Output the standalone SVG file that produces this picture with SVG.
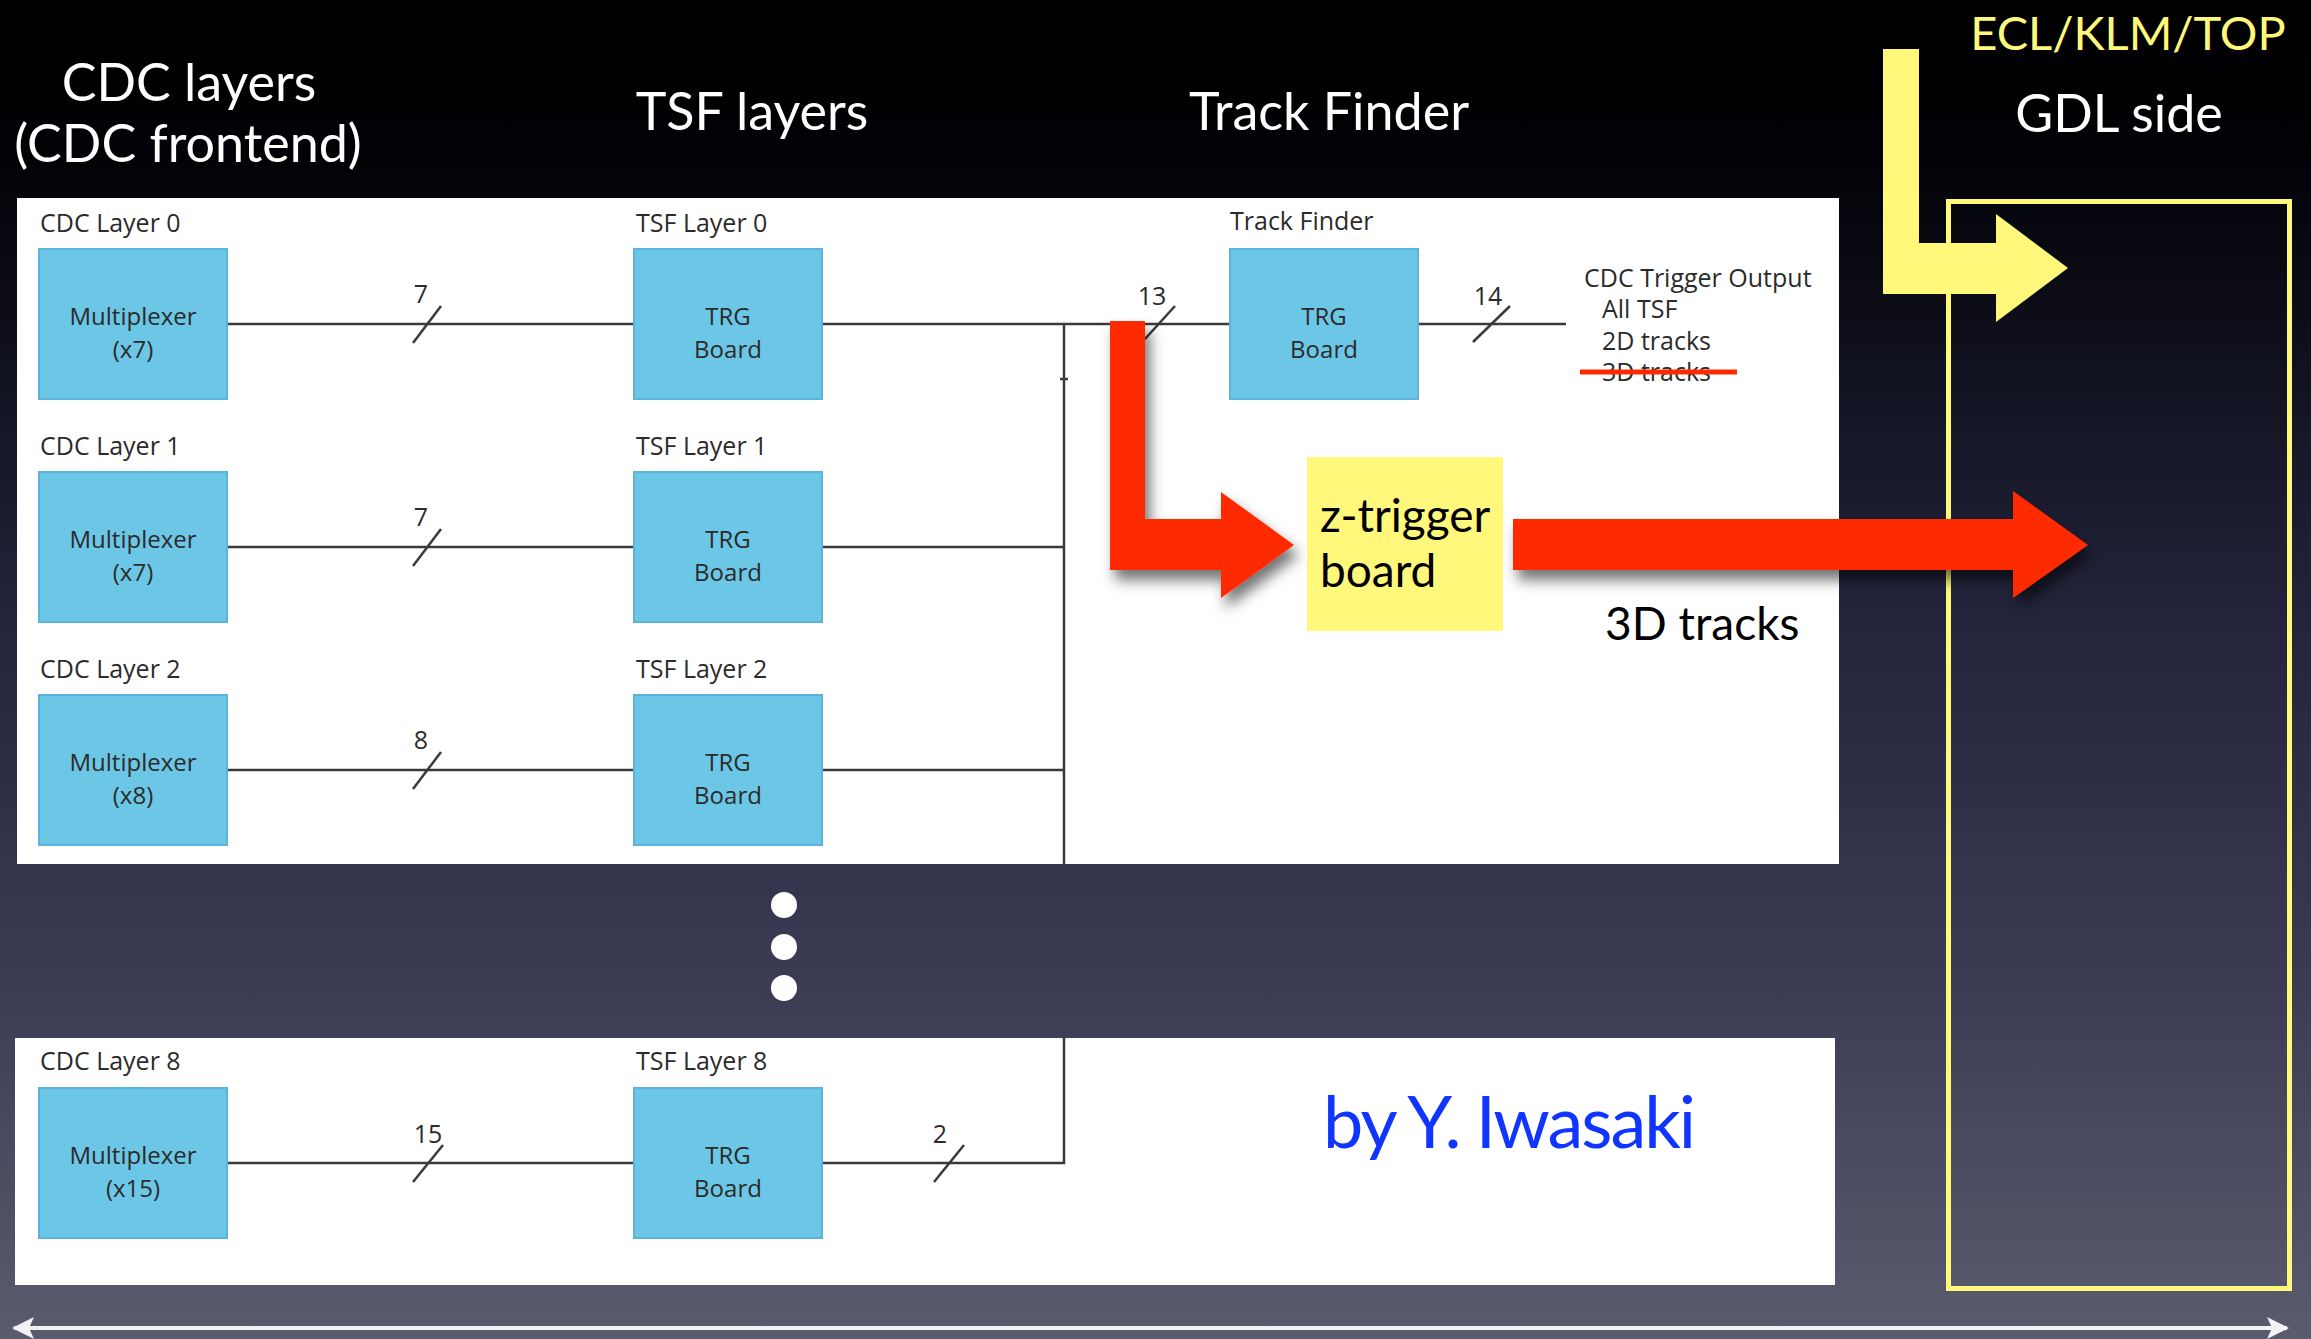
<svg xmlns="http://www.w3.org/2000/svg" width="2311" height="1339" viewBox="0 0 2311 1339">
<defs>
<linearGradient id="bg" x1="0" y1="0" x2="0" y2="1">
<stop offset="0" stop-color="#000000"/>
<stop offset="0.12" stop-color="#020207"/>
<stop offset="0.45" stop-color="#22233a"/>
<stop offset="0.72" stop-color="#3a3b53"/>
<stop offset="1" stop-color="#5a5b6d"/>
</linearGradient>
<filter id="shadow" x="-10%" y="-10%" width="130%" height="140%">
<feDropShadow dx="5" dy="10" stdDeviation="7" flood-color="#000" flood-opacity="0.55"/>
</filter>
<marker id="wh" viewBox="0 0 22 22" refX="20" refY="11" markerWidth="22" markerHeight="22" markerUnits="userSpaceOnUse" orient="auto-start-reverse">
<path d="M0,0 L22,11 L0,22 L5,11 Z" fill="#f2f2f6"/>
</marker>
<style>
.title{font-family:Lato,"Open Sans",sans-serif;font-size:52px;fill:#ffffff;text-anchor:middle}
.yel{font-family:Lato,"Open Sans",sans-serif;font-size:47px;fill:#fff87a;text-anchor:middle}
.lbl{font-family:"Open Sans","Noto Sans",sans-serif;font-size:25px;fill:#2b2b2b}
.bx{font-family:"Open Sans","Noto Sans",sans-serif;font-size:24px;fill:#2b2b2b;text-anchor:middle}
.num{font-family:"Open Sans","Noto Sans",sans-serif;font-size:25px;fill:#2b2b2b;text-anchor:middle}
.big{font-family:Lato,"Open Sans",sans-serif;font-size:46px;fill:#000000}
.box{fill:#6cc6e5;stroke:#5cb3dc;stroke-width:2}
.wire{fill:none;stroke:#3a3a3a;stroke-width:2.5}
.slash{stroke:#3a3a3a;stroke-width:2.5}
.panel{fill:#ffffff}
.red{fill:#ff2a00}
.yfill{fill:#fff87a}
</style>
</defs>
<rect x="0" y="0" width="2311" height="1339" fill="url(#bg)"/>

<g id="titles">
<text class="title" x="189" y="101">CDC layers</text>
<text class="title" x="188" y="162">(CDC frontend)</text>
<text class="title" x="752" y="130">TSF layers</text>
<text class="title" x="1329" y="130">Track Finder</text>
<text class="title" x="2119" y="132">GDL side</text>
<text class="yel" x="2128" y="50">ECL/KLM/TOP</text>
</g>

<g id="panels">
<rect class="panel" x="17" y="198" width="1822" height="666"/>
<rect class="panel" x="15" y="1038" width="1820" height="247"/>
</g>

<g id="gdl-side">
<rect x="1948.5" y="201.5" width="341" height="1087" fill="none" stroke="#fff87a" stroke-width="5"/>
</g>

<g id="connectors">
<line class="wire" x1="227" y1="324" x2="634" y2="324"/>
<line class="wire" x1="227" y1="547" x2="634" y2="547"/>
<line class="wire" x1="227" y1="770" x2="634" y2="770"/>
<line class="wire" x1="227" y1="1163" x2="634" y2="1163"/>
<line class="wire" x1="822" y1="324" x2="1230" y2="324"/>
<line class="wire" x1="822" y1="547" x2="1064" y2="547"/>
<line class="wire" x1="822" y1="770" x2="1064" y2="770"/>
<polyline class="wire" points="822,1163 1064,1163 1064,1038"/>
<line class="wire" x1="1064" y1="324" x2="1064" y2="864"/>
<line class="wire" x1="1060" y1="379" x2="1068" y2="379" stroke-width="2"/>
<line class="wire" x1="1418" y1="324" x2="1566" y2="324"/>
<line class="slash" x1="413" y1="343" x2="441" y2="306"/>
<line class="slash" x1="413" y1="566" x2="441" y2="529"/>
<line class="slash" x1="413" y1="789" x2="441" y2="752"/>
<line class="slash" x1="413" y1="1182" x2="443" y2="1145"/>
<line class="slash" x1="934" y1="1182" x2="964" y2="1145"/>
<line class="slash" x1="1145" y1="339" x2="1175" y2="306"/>
<line class="slash" x1="1473" y1="342" x2="1510" y2="306"/>
<text class="num" x="421" y="303">7</text>
<text class="num" x="421" y="526">7</text>
<text class="num" x="421" y="749">8</text>
<text class="num" x="428" y="1143">15</text>
<text class="num" x="940" y="1143">2</text>
<text class="num" x="1152" y="305">13</text>
<text class="num" x="1488" y="305">14</text>
<line x1="14" y1="1328" x2="2287" y2="1328" stroke="#f2f2f6" stroke-width="4" marker-start="url(#wh)" marker-end="url(#wh)"/>
</g>

<g id="cdc-layer-0">
<text class="lbl" x="40" y="232">CDC Layer 0</text>
<rect class="box" x="39" y="249" width="188" height="150"/>
<text class="bx" x="133" y="325">Multiplexer</text>
<text class="bx" x="133" y="358">(x7)</text>
</g>
<g id="tsf-layer-0">
<text class="lbl" x="636" y="232">TSF Layer 0</text>
<rect class="box" x="634" y="249" width="188" height="150"/>
<text class="bx" x="728" y="325">TRG</text>
<text class="bx" x="728" y="358">Board</text>
</g>

<g id="cdc-layer-1">
<text class="lbl" x="40" y="455">CDC Layer 1</text>
<rect class="box" x="39" y="472" width="188" height="150"/>
<text class="bx" x="133" y="548">Multiplexer</text>
<text class="bx" x="133" y="581">(x7)</text>
</g>
<g id="tsf-layer-1">
<text class="lbl" x="636" y="455">TSF Layer 1</text>
<rect class="box" x="634" y="472" width="188" height="150"/>
<text class="bx" x="728" y="548">TRG</text>
<text class="bx" x="728" y="581">Board</text>
</g>

<g id="cdc-layer-2">
<text class="lbl" x="40" y="678">CDC Layer 2</text>
<rect class="box" x="39" y="695" width="188" height="150"/>
<text class="bx" x="133" y="771">Multiplexer</text>
<text class="bx" x="133" y="804">(x8)</text>
</g>
<g id="tsf-layer-2">
<text class="lbl" x="636" y="678">TSF Layer 2</text>
<rect class="box" x="634" y="695" width="188" height="150"/>
<text class="bx" x="728" y="771">TRG</text>
<text class="bx" x="728" y="804">Board</text>
</g>

<g id="ellipsis">
<circle cx="784" cy="905" r="13" fill="#ffffff"/>
<circle cx="784" cy="947" r="13" fill="#ffffff"/>
<circle cx="784" cy="988" r="13" fill="#ffffff"/>
</g>

<g id="cdc-layer-8">
<text class="lbl" x="40" y="1070">CDC Layer 8</text>
<rect class="box" x="39" y="1088" width="188" height="150"/>
<text class="bx" x="133" y="1164">Multiplexer</text>
<text class="bx" x="133" y="1197">(x15)</text>
</g>
<g id="tsf-layer-8">
<text class="lbl" x="636" y="1070">TSF Layer 8</text>
<rect class="box" x="634" y="1088" width="188" height="150"/>
<text class="bx" x="728" y="1164">TRG</text>
<text class="bx" x="728" y="1197">Board</text>
</g>

<g id="track-finder">
<text class="lbl" x="1230" y="230">Track Finder</text>
<rect class="box" x="1230" y="249" width="188" height="150"/>
<text class="bx" x="1324" y="325">TRG</text>
<text class="bx" x="1324" y="358">Board</text>
</g>

<g id="cdc-trigger-output">
<text class="lbl" x="1584" y="287">CDC Trigger Output</text>
<text class="lbl" x="1602" y="318">All TSF</text>
<text class="lbl" x="1602" y="350">2D tracks</text>
<text class="lbl" x="1602" y="381">3D tracks</text>
<line x1="1580" y1="372" x2="1737" y2="372" stroke="#ff2a00" stroke-width="5"/>
</g>

<g id="red-arrows" filter="url(#shadow)">
<path class="red" d="M1110,321 L1145,321 L1145,519 L1221,519 L1221,492 L1294,545 L1221,598 L1221,570 L1110,570 Z"/>
<path class="red" d="M1513,519 L2013,519 L2013,491 L2088,545 L2013,598 L2013,570 L1513,570 Z"/>
</g>

<g id="z-trigger-board">
<rect class="yfill" x="1307" y="457" width="196" height="174"/>
<text class="big" x="1320" y="532">z-trigger</text>
<text class="big" x="1320" y="587">board</text>
</g>

<g id="label-3d-tracks">
<text class="big" x="1605" y="640">3D tracks</text>
</g>

<g id="ecl-klm-top-arrow">
<path class="yfill" d="M1883,49 L1919,49 L1919,243 L1996,243 L1996,214 L2068,268 L1996,322 L1996,294 L1883,294 Z"/>
</g>

<g id="credit">
<text x="1323" y="1148" font-family="Lato,'Open Sans',sans-serif" font-size="72" fill="#1035ff" letter-spacing="-2">by Y. Iwasaki</text>
</g>
</svg>
